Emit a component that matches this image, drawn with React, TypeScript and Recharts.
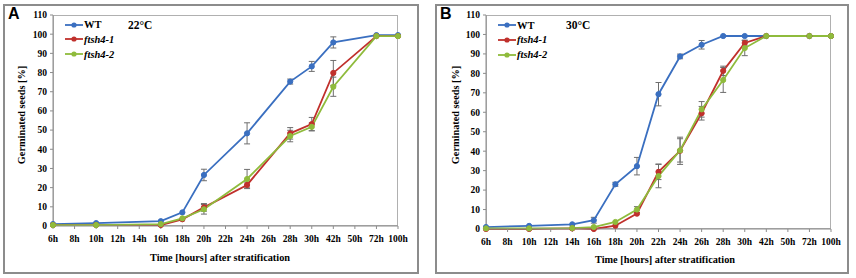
import { LineChart, Line, XAxis, YAxis, ErrorBar } from "recharts";

const HOURS = ["6h", "8h", "10h", "12h", "14h", "16h", "18h", "20h", "22h", "24h", "26h", "28h", "30h", "42h", "50h", "72h", "100h"];
const Y_TICKS = [0, 10, 20, 30, 40, 50, 60, 70, 80, 90, 100, 110];

// panel A, 22°C
const A_WT = [1, null, 1.5, null, null, 2.5, 7.1, 26.6, null, 48.3, null, 75.3, 83.2, 95.7, null, 99.5, 99.5];
const A_WT_ERR = [null, null, null, null, null, null, null, 3, null, 5.5, null, 1.3, 2.6, 2.9, null, null, null];
const A_F1 = [0.5, null, 0.5, null, null, 0.5, 3.5, 9.7, null, 21.4, null, 48.3, 53.1, 79.8, null, 99, 99];
const A_F1_ERR = [null, null, null, null, null, null, null, 2, null, 1.5, null, 3, 3.5, 6.5, null, null, null];
const A_F2 = [0.5, null, 0.5, null, null, 1, 4, 8.7, null, 24.5, null, 46.9, 51.7, 72.6, null, 99, 99];
const A_F2_ERR = [null, null, null, null, null, null, null, 2.5, null, 5, null, 3, 2, 5, null, null, null];

// panel B, 30°C
const B_WT = [1, null, 1.6, null, 2.4, 4.5, 23, 32.3, 69.3, 88.7, 94.7, 99.2, 99.2, 99.2, null, 99.2, 99.2];
const B_WT_ERR = [null, null, null, null, null, 1.5, 1, 4.5, 6, 1.2, 2.2, null, null, null, null, null, null];
const B_F1 = [0, null, 0, null, 0.3, 0, 1.7, 7.9, 29.4, 40.2, 59.5, 81.3, 95.6, 99.2, null, 99.2, 99.2];
const B_F1_ERR = [null, null, null, null, null, null, null, null, 4, 7, 3.5, 2.4, 1.5, null, null, null, null];
const B_F2 = [0.3, null, 0.3, null, 0.5, 1, 3.6, 10, 27.2, 40.4, 61.5, 76.6, 93, 99.2, null, 99.2, 99.2];
const B_F2_ERR = [null, null, null, null, null, null, null, 1.5, 6, 6, 4, 6.4, 3.9, null, null, null, null];

const COLORS = { wt: "#3a6fc0", f1: "#c0302c", f2: "#8fbb3c" };
const SERIES = [
  { key: "wt", name: "WT", italic: false },
  { key: "f1", name: "ftsh4-1", italic: true },
  { key: "f2", name: "ftsh4-2", italic: true },
];

const serif = "Times New Roman, Liberation Serif, DejaVu Serif, serif";

function rows(wt, wtE, f1, f1E, f2, f2E) {
  return HOURS.map((h, i) => ({
    h,
    wt: wt[i], wtErr: wtE[i],
    f1: f1[i], f1Err: f1E[i],
    f2: f2[i], f2Err: f2E[i],
  }));
}

const dataA = rows(A_WT, A_WT_ERR, A_F1, A_F1_ERR, A_F2, A_F2_ERR);
const dataB = rows(B_WT, B_WT_ERR, B_F1, B_F1_ERR, B_F2, B_F2_ERR);

const tickStyle = { fontFamily: serif, fontSize: 9.5, fontWeight: 700, fill: "#000" };

function Panel({ data, letter, temp, box, plot, legend, tempPos, yLabelX, xTitle }) {
  // box: outer frame in page coords, plot: plot area in page coords
  const yAxisW = 40;
  const xAxisH = 30;
  const margin = {
    left: plot.x0 - box.x - yAxisW,
    right: box.x + box.w - plot.x1,
    top: plot.y0 - box.y,
    bottom: box.y + box.h - plot.y1 - xAxisH,
  };
  return (
    <>
      <div style={{ position: "absolute", left: box.x, top: box.y, width: box.w, height: box.h, boxSizing: "border-box", border: "2px solid #8c8c8c" }} />
      <div style={{ position: "absolute", left: plot.x0, top: plot.y0, width: plot.x1 - plot.x0, height: plot.y1 - plot.y0, boxSizing: "border-box", border: "1px solid #b0b0b0" }} />
      <div style={{ position: "absolute", left: box.x, top: box.y }}>
        <LineChart width={box.w} height={box.h} data={data} margin={margin}>
          <XAxis
            dataKey="h"
            interval={0}
            height={xAxisH}
            tick={tickStyle}
            tickSize={3}
            stroke="#8c8c8c"
            tickMargin={6}
          />
          <YAxis
            width={yAxisW}
            domain={[0, 110]}
            ticks={Y_TICKS}
            interval={0}
            tick={tickStyle}
            tickSize={3}
            stroke="#8c8c8c"
            tickMargin={3}
          />
          {SERIES.map((s) => (
            <Line
              key={s.key}
              dataKey={s.key}
              stroke={COLORS[s.key]}
              strokeWidth={1.8}
              dot={{ r: 2.6, fill: COLORS[s.key], stroke: COLORS[s.key], strokeWidth: 1 }}
              connectNulls
              isAnimationActive={false}
            >
              <ErrorBar dataKey={s.key + "Err"} direction="y" width={3} stroke="#6e6e6e" strokeWidth={1} />
            </Line>
          ))}
        </LineChart>
      </div>
      <div style={{ position: "absolute", left: box.x + 5, top: box.y + 1, fontFamily: "Liberation Sans, Arial, sans-serif", fontWeight: 700, fontSize: 16 }}>{letter}</div>
      <div style={{ position: "absolute", left: tempPos.x, top: tempPos.y, fontFamily: serif, fontWeight: 700, fontSize: 11.5 }}>{temp}</div>
      {SERIES.map((s, i) => (
        <div key={s.key} style={{ position: "absolute", left: legend.x, top: legend.y + i * 14.8 - 7, height: 14, display: "flex", alignItems: "center" }}>
          <svg width={18} height={14}>
            <line x1={0} y1={7} x2={18} y2={7} stroke={COLORS[s.key]} strokeWidth={1.8} />
            <circle cx={9} cy={7} r={2.6} fill={COLORS[s.key]} />
          </svg>
          <span style={{ fontFamily: serif, fontWeight: 700, fontStyle: s.italic ? "italic" : "normal", fontSize: 10.5, marginLeft: 1 }}>{s.name}</span>
        </div>
      ))}
      <div style={{ position: "absolute", left: yLabelX - 60, top: 115 - 7, width: 120, height: 14, textAlign: "center", transform: "rotate(-90deg)", fontFamily: serif, fontWeight: 700, fontSize: 10.3, whiteSpace: "nowrap", lineHeight: "14px" }}>Germinated seeds [%]</div>
      <div style={{ position: "absolute", left: xTitle.x - 100, top: xTitle.y - 7, width: 200, textAlign: "center", fontFamily: serif, fontWeight: 700, fontSize: 10.3, lineHeight: "14px" }}>Time [hours] after stratification</div>
    </>
  );
}

export default function App() {
  return (
    <div style={{ position: "fixed", left: 0, top: 0, width: 856, height: 278, background: "#fff" }}>
      <Panel
        data={dataA}
        letter="A"
        temp="22°C"
        box={{ x: 3, y: 4, w: 416, h: 270 }}
        plot={{ x0: 53, x1: 398, y0: 15, y1: 226 }}
        legend={{ x: 65, y: 24.5 }}
        tempPos={{ x: 128, y: 19 }}
        yLabelX={22}
        xTitle={{ x: 220, y: 258 }}
      />
      <Panel
        data={dataB}
        letter="B"
        temp="30°C"
        box={{ x: 435, y: 4, w: 414, h: 270 }}
        plot={{ x0: 486, x1: 831, y0: 15, y1: 229 }}
        legend={{ x: 498, y: 25 }}
        tempPos={{ x: 566, y: 19 }}
        yLabelX={456}
        xTitle={{ x: 665, y: 260 }}
      />
    </div>
  );
}
